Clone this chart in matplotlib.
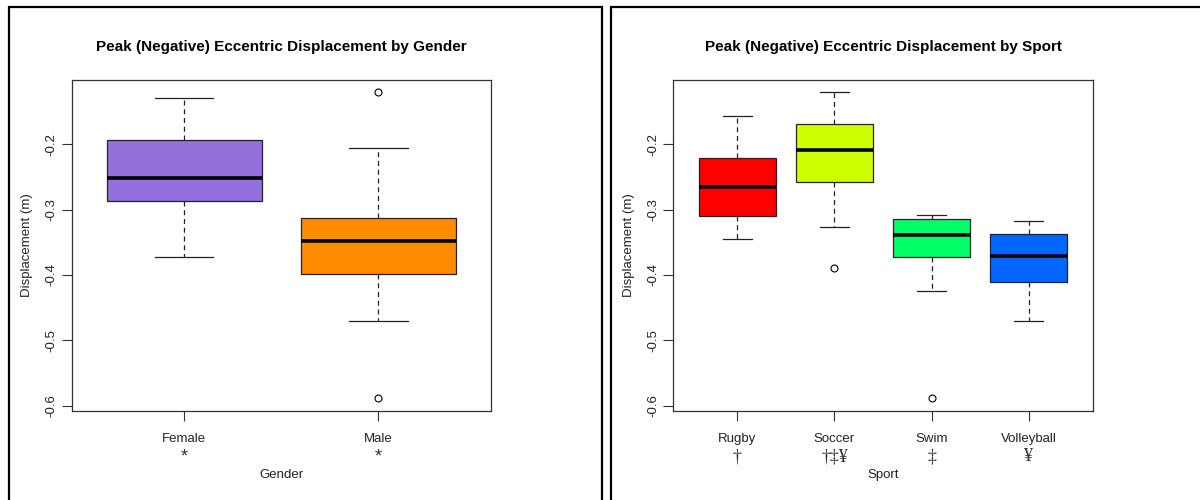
import matplotlib
matplotlib.use("Agg")
import matplotlib.pyplot as plt
from matplotlib.patches import Rectangle

plt.rcParams['font.family'] = ['Liberation Sans', 'DejaVu Sans']

# ---- data: five-number summaries and outliers ----
genders = ['Female', 'Male']
gender_marks = ['*', '*']
gender_whislo = [-0.3726, -0.4701]
gender_q1 = [-0.2868, -0.3991]
gender_med = [-0.2511, -0.3486]
gender_q3 = [-0.1939, -0.3133]
gender_whishi = [-0.1286, -0.2061]
gender_fliers = [[], [-0.1204, -0.5885]]
gender_colors = ['#9370DB', '#FF8C00']

sports = ['Rugby', 'Soccer', 'Swim', 'Volleyball']
sport_marks = ['\u2020', '\u2020\u2021\u00a5', '\u2021', '\u00a5']
sport_whislo = [-0.3445, -0.3262, -0.4251, -0.4701]
sport_q1 = [-0.3093, -0.2573, -0.3726, -0.4109]
sport_med = [-0.2654, -0.2092, -0.3389, -0.3711]
sport_q3 = [-0.2205, -0.1694, -0.3149, -0.3378]
sport_whishi = [-0.1571, -0.1199, -0.3078, -0.3175]
sport_fliers = [[], [-0.3899], [-0.5885], []]
sport_colors = ['#FF0000', '#CCFF00', '#00FF66', '#0066FF']

yticks = [-0.2, -0.3, -0.4, -0.5, -0.6]
ytick_labels = ['-0.2', '-0.3', '-0.4', '-0.5', '-0.6']


def draw_panel(ax, names, marks, lo, q1, med, q3, hi, fliers, colors,
               title, xlabel, mark_family, mark_size):
    stats = []
    for i, n in enumerate(names):
        stats.append(dict(label=n, whislo=lo[i], q1=q1[i], med=med[i],
                          q3=q3[i], whishi=hi[i], fliers=fliers[i]))
    pos = list(range(1, len(names) + 1))
    bp = ax.bxp(stats, positions=pos, widths=0.8, patch_artist=True,
                showfliers=True,
                boxprops=dict(linewidth=0.9, edgecolor='#222222'),
                medianprops=dict(color='black', linewidth=2.6),
                whiskerprops=dict(color='#222222', linewidth=0.9,
                                  linestyle=(0, (4, 3))),
                capprops=dict(color='#222222', linewidth=0.9),
                capwidths=0.3,
                flierprops=dict(marker='o', markersize=5,
                                markerfacecolor='none',
                                markeredgecolor='black',
                                markeredgewidth=0.8))
    for patch, c in zip(bp['boxes'], colors):
        patch.set_facecolor(c)

    n = len(names)
    ext = 0.04 * n
    ax.set_xlim(0.5 - ext, n + 0.5 + ext)
    ymin, ymax = -0.5896, -0.1203
    r = ymax - ymin
    ax.set_ylim(ymin - 0.04 * r, ymax + 0.04 * r)

    ax.set_yticks(yticks)
    ax.set_yticklabels(ytick_labels, rotation=90, va='center', fontsize=9.5,
                       color='#222222')
    ax.set_xticks(pos)
    ax.set_xticklabels(names, fontsize=9.5, color='#222222')
    ax.tick_params(axis='both', direction='out', length=7, width=0.8,
                   color='#333333')
    ax.tick_params(axis='x', pad=9)
    ax.tick_params(axis='y', pad=3)
    for s in ax.spines.values():
        s.set_linewidth(0.9)
        s.set_color('#333333')

    for p, m in zip(pos, marks):
        ax.text(p, -0.138, m, transform=ax.get_xaxis_transform(),
                ha='center', va='center', fontsize=mark_size,
                color='#333333', family=mark_family)

    ax.set_ylabel('Displacement (m)', fontsize=9.5, color='#222222',
                  labelpad=9)
    ax.text(0.5, -0.193, xlabel, transform=ax.transAxes, ha='center',
            va='center', fontsize=9.5, color='#222222')
    ax.set_title(title, fontsize=11, fontweight='bold', pad=21)


fig = plt.figure(figsize=(12, 5), dpi=100)
ax1 = fig.add_axes([0.0598, 0.178, 0.3494, 0.662])
ax2 = fig.add_axes([0.5611, 0.178, 0.3495, 0.662])

draw_panel(ax1, genders, gender_marks, gender_whislo, gender_q1, gender_med,
           gender_q3, gender_whishi, gender_fliers, gender_colors,
           'Peak (Negative) Eccentric Displacement by Gender', 'Gender',
           ['Liberation Sans', 'DejaVu Sans'], 13)
draw_panel(ax2, sports, sport_marks, sport_whislo, sport_q1, sport_med,
           sport_q3, sport_whishi, sport_fliers, sport_colors,
           'Peak (Negative) Eccentric Displacement by Sport', 'Sport',
           ['Liberation Serif', 'DejaVu Serif'], 13)

# panel frames
W, H = 1200.0, 500.0
for x0, x1 in [(8.5, 602.0), (611.0, 1210.0)]:
    fig.patches.append(Rectangle((x0 / W, -0.1), (x1 - x0) / W,
                                 1 - 7 / H + 0.1, transform=fig.transFigure,
                                 fill=False, edgecolor='black',
                                 linewidth=1.6, clip_on=False))

fig.savefig('out.png', dpi=100)
